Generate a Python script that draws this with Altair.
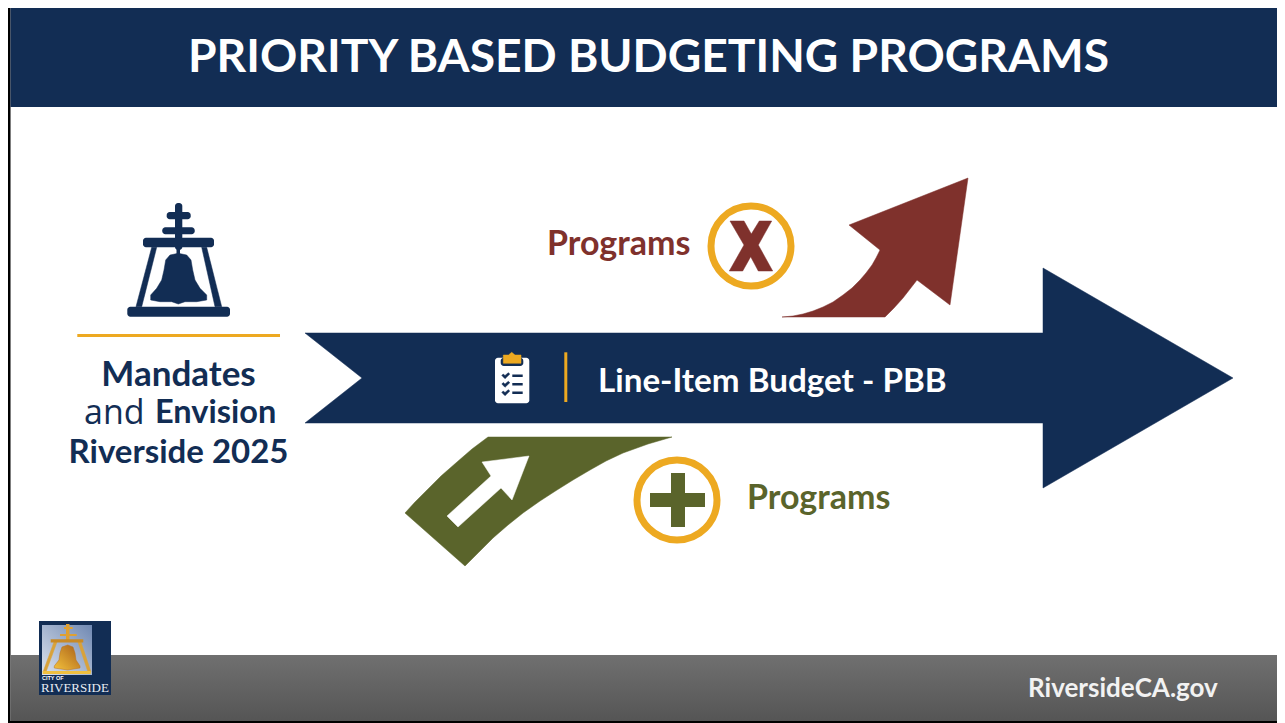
import altair as alt
import pandas as pd

NAVY = "#122D54"
RED = "#7F312C"
OLIVE = "#5A642B"
GOLD = "#EDA921"
TITLE_FONT = "Lato"

# polygons: (xs, ys, colour)
arrow_x = [305, 1043, 1043, 1233, 1043, 1043, 305, 362]
arrow_y = [333, 333, 268, 378, 488, 423, 423, 378]
red_x = [968, 950, 917, 910, 903, 894, 885, 782, 793, 803, 813, 823, 833, 843, 852, 860, 866, 872, 876, 880, 849]
red_y = [178, 305, 280, 289, 298, 308, 317, 317, 316, 314, 311, 307, 302, 295, 288, 280, 273, 265, 258, 250, 225]
olive_x = [488, 672, 648, 623, 606, 590, 573, 557, 540, 523, 508, 493, 479, 465, 405, 415, 427, 441, 457, 472]
olive_y = [437, 437, 444, 453, 461, 470, 480, 490, 501, 513, 525, 538, 552, 566, 513, 502, 490, 476, 462, 449]
white_arrow_x = [529, 512, 501, 458, 447, 491, 482]
white_arrow_y = [456, 500, 488, 527, 516, 476, 462]
x_glyph_x = [730, 744, 751.3, 759.3, 771.7, 758.3, 772.7, 758.3, 750.7, 742.7, 729.3, 744]
x_glyph_y = [221, 221, 234, 221, 221, 245, 271, 271, 256.7, 271, 271, 245]
bell_x = [178.3, 170, 165.7, 164, 161.7, 156.7, 150.7, 150.7, 160, 171.7, 178.3, 185, 196.7, 206.7, 206.7, 200, 195, 192.7, 191, 186.7]
bell_y = [253.3, 255, 260, 270, 280, 288.3, 295, 300, 301.7, 301.7, 304, 301.7, 301.7, 300, 295, 288.3, 280, 270, 260, 255]
leg_l_x = [151.7, 156.7, 141.7, 136]
leg_l_y = [247.3, 247.3, 306.7, 306.7]
leg_r_x = [201.7, 206.7, 221.7, 215]
leg_r_y = [247.3, 247.3, 306.7, 306.7]
clip_x = [503.3, 508.5, 511.7, 515, 521, 521, 503.3]
clip_y = [355, 355, 352.3, 355, 355, 363.3, 363.3]
logo_leg_l_x = [54, 57, 46, 43]
logo_leg_l_y = [642, 642, 672, 672]
logo_leg_r_x = [78, 81, 91, 88]
logo_leg_r_y = [642, 642, 672, 672]
logo_bell_x = [67.7, 62, 60, 59, 54.3, 54.3, 67.7, 80, 80, 76, 75, 73]
logo_bell_y = [645, 647, 653, 660, 666, 668, 670, 668, 666, 660, 653, 647]
check_rows = [375.7, 384.3, 392.7]
check_x = [501.8, 503.2, 505, 508.3, 509.8, 505]
check_dy = [-0.3, -1.7, -0.2, -3, -1.6, 3]

# rectangles: x, x2, y, y2, colour, corner radius
rects = [
    (8, 1277, 8, 723, "#FFFFFF", 0),
    (8, 10.5, 8, 723, "#000000", 0),
    (10.5, 1277, 8, 107, NAVY, 0),
    (77.3, 280, 334, 337, GOLD, 0),
    (175, 182.3, 203, 250, NAVY, 3),
    (166.7, 190.7, 212, 219.3, NAVY, 3),
    (162.3, 194.7, 227.3, 234.3, NAVY, 3),
    (143, 214, 237.7, 247.3, NAVY, 3),
    (127.3, 230, 306.7, 316.7, NAVY, 3),
    (176.5, 180, 247, 255, NAVY, 0),
    (564.3, 567.3, 352.3, 402, GOLD, 0),
    (495, 529.3, 357.7, 403.3, "#FFFFFF", 3),
    (500.7, 523.3, 357.7, 366, NAVY, 3),
    (671, 685, 473, 527, OLIVE, 0),
    (650, 705, 493, 507, OLIVE, 0),
]
logo_rects = [
    (39, 111, 621, 695, NAVY, 0),
    (66, 69.5, 624, 642, "#E0A030", 0),
    (64, 72.7, 627, 629, "#E0A030", 0),
    (60, 76.7, 634, 636, "#E0A030", 0),
    (50.7, 83.3, 639.3, 642.5, "#C98A25", 0),
    (42.7, 90.7, 671, 674, "#F0C040", 0),
]

sx = alt.Scale(domain=[8, 1277], range=[0, 1269], nice=False, zero=False)
sy = alt.Scale(domain=[8, 723], range=[0, 715], nice=False, zero=False)
X = alt.X("x:Q", scale=sx, axis=None)
Y = alt.Y("y:Q", scale=sy, axis=None)


def poly(xs, ys, color):
    df = pd.DataFrame({"x": xs + xs[:1], "y": ys + ys[:1], "o": range(len(xs) + 1)})
    stroke = color if isinstance(color, str) else "#B8701C"
    return alt.Chart(df).mark_line(fill=color, stroke=stroke, strokeWidth=0.5, interpolate="linear").encode(
        x=X, y=Y, order=alt.Order("o:Q"))


def rect(x, x2, y, y2, color, r=0, fill=None):
    df = pd.DataFrame({"x": [x], "x2": [x2], "y": [y], "y2": [y2]})
    return alt.Chart(df).mark_rect(fill=fill if fill is not None else color, cornerRadius=r).encode(
        x=X, x2="x2:Q", y=Y, y2="y2:Q")


def txt(s, x, y, size, color, align="left", weight="bold", font=TITLE_FONT):
    df = pd.DataFrame({"x": [x], "y": [y], "t": [s]})
    return alt.Chart(df).mark_text(fontSize=size, color=color, align=align, baseline="middle",
                                   fontWeight=weight, font=font).encode(x=X, y=Y, text="t:N")


def ring(x, y, size):
    df = pd.DataFrame({"x": [x], "y": [y]})
    return alt.Chart(df).mark_point(shape="circle", size=size, filled=False, stroke=GOLD, strokeWidth=7, opacity=1).encode(x=X, y=Y)


layers = []
for r in rects[:3]:
    layers.append(rect(*r))
layers.append(rect(10.5, 1277, 655, 721, "#666666", fill=alt.Gradient(
    gradient="linear", x1=0, y1=0, x2=0, y2=1,
    stops=[alt.GradientStop(color="#707070", offset=0), alt.GradientStop(color="#555555", offset=1)])))
layers.append(rect(8, 1277, 721, 723, "#000000"))
layers.append(poly(arrow_x, arrow_y, NAVY))
layers.append(poly(red_x, red_y, RED))
layers.append(poly(olive_x, olive_y, OLIVE))
layers.append(poly(white_arrow_x, white_arrow_y, "#FFFFFF"))
layers.append(poly(x_glyph_x, x_glyph_y, RED))
layers.append(poly(leg_l_x, leg_l_y, NAVY))
layers.append(poly(leg_r_x, leg_r_y, NAVY))
layers.append(poly(bell_x, bell_y, NAVY))
for r in rects[3:]:
    layers.append(rect(*r))
layers.append(poly(clip_x, clip_y, GOLD))
for y in check_rows:
    layers.append(rect(512.3, 522.7, y - 1.2, y + 1.2, NAVY))
    layers.append(poly(check_x, [y + d for d in check_dy], NAVY))
layers.append(ring(751, 246, 6400))
layers.append(ring(677, 500, 6400))

# logo
layers.append(rect(*logo_rects[0]))
layers.append(rect(42, 92, 625, 675, "#9AAECB", fill=alt.Gradient(
    gradient="linear", x1=1, y1=0, x2=0, y2=1,
    stops=[alt.GradientStop(color="#6F88B2", offset=0), alt.GradientStop(color="#DDE3EE", offset=1)])))
layers.append(poly(logo_leg_l_x, logo_leg_l_y, "#D9A23A"))
layers.append(poly(logo_leg_r_x, logo_leg_r_y, "#D9A23A"))
layers.append(poly(logo_bell_x, logo_bell_y, alt.Gradient(
    gradient="linear", x1=0, y1=1, x2=1, y2=0,
    stops=[alt.GradientStop(color="#F4C23C", offset=0), alt.GradientStop(color="#A85E18", offset=1)])))
for r in logo_rects[1:]:
    layers.append(rect(*r))
layers.append(txt("CITY OF", 42, 678, 5.5, "#FFFFFF", font="Liberation Sans"))
layers.append(txt("RIVERSIDE", 41, 688, 13, "#E8ECF3", weight="normal", font="Liberation Serif"))

# text
layers += [
    txt("PRIORITY BASED BUDGETING PROGRAMS", 648.5, 58, 46.2, "#FFFFFF", "center"),
    txt("Mandates", 178.5, 375, 35, NAVY, "center"),
    txt("and", 84, 414, 34, NAVY, weight="normal", font="Open Sans"),
    txt("Envision", 155, 413, 32.5, NAVY),
    txt("Riverside 2025", 178.5, 453, 33, NAVY, "center"),
    txt("Programs", 547, 245, 34, RED),
    txt("Programs", 747, 499, 34, OLIVE),
    txt("Line-Item Budget - PBB", 598, 382, 33.2, "#FFFFFF"),
    txt("RiversideCA.gov", 1028, 689, 26, "#F2F2F2"),
]

chart = alt.layer(*layers).properties(width=1269, height=715, padding=0).configure_view(stroke=None)
chart.save("out.html", embed_options={"renderer": "svg", "actions": False})
